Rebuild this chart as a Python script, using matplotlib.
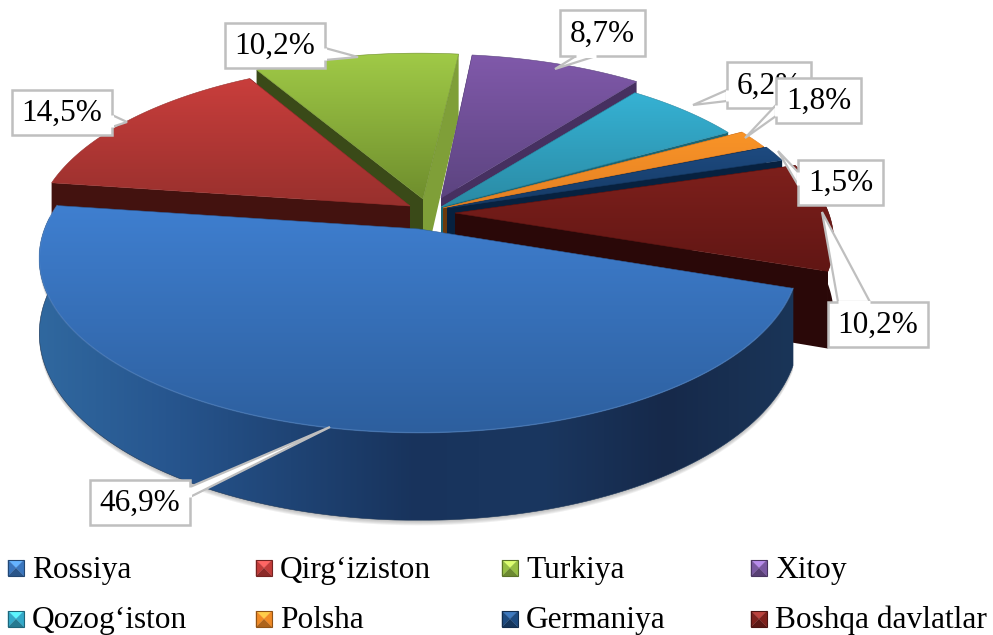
import numpy as np
import matplotlib
import matplotlib.pyplot as plt
from matplotlib.colors import LinearSegmentedColormap
from matplotlib.patches import Polygon

matplotlib.use('Agg')
plt.rcParams['font.family'] = ['Liberation Serif', 'DejaVu Serif']

names = ['Rossiya', 'Qirg‘iziston', 'Turkiya', 'Xitoy',
         'Qozog‘iston', 'Polsha', 'Germaniya', 'Boshqa davlatlar']
values = [46.9, 14.5, 10.2, 8.7, 6.2, 1.8, 1.5, 10.2]
value_labels = ['46,9%', '14,5%', '10,2%', '8,7%', '6,2%', '1,8%', '1,5%', '10,2%']

# top gradient (back, front), wall colour
top_colors = [('#3f7fd0', '#2d5f9e'), ('#c93e3c', '#98302d'), ('#a0ca47', '#6f8e2d'),
              ('#8059aa', '#5c4480'), ('#36b2d4', '#2a8aa4'), ('#f99427', '#e48024'),
              ('#1d4a80', '#163a64'), ('#7e201c', '#611614')]
wall_colors = ['#1b3b68', '#43120f', '#3a4a18', '#463060',
               '#1a6675', '#6b3a0c', '#07213f', '#2a0808']
# where each exploded slice has its tip, how far out it reaches, sideways lean of its rim
tips = [(419, 229), (410, 206), (423, 199), (441, 198),
        (441, 207), (443, 208), (447, 208), (455, 213)]
reach = [0.98, 0.97, 0.985, 0.97, 0.95, 0.97, 0.965, 0.965]
lean = [0, 0, -4, -8, -6, 0, 0, 5]
draw_order = [2, 3, 1, 4, 5, 6, 7, 0]

START = -19.3
RX, RY, PERSP, DEPTH = 382, 173, 0.171, 73

fig = plt.figure(figsize=(9.93, 6.35), dpi=100)
ax = fig.add_axes([0, 0, 1, 1])


def project(angle, i, drop=0.0, radius=1.0):
    a = np.radians(angle)
    u, v = radius * reach[i] * np.cos(a), radius * reach[i] * np.sin(a)
    w = 1 + PERSP * v
    x = tips[i][0] + RX * u / w + lean[i] * radius * np.ones_like(u)
    return np.column_stack([x, tips[i][1] - RY * v / w + drop * DEPTH / w])


def grad_fill(poly, colors, z, horizontal=False):
    x0, y0 = poly.min(axis=0)
    x1, y1 = poly.max(axis=0)
    cmap = LinearSegmentedColormap.from_list('g', colors)
    ramp = np.linspace(0, 1, 256)
    ramp = ramp[None, :] if horizontal else ramp[:, None]
    im = ax.imshow(ramp, cmap=cmap, extent=(x0, x1, y1, y0), aspect='auto',
                   origin='upper', zorder=z, interpolation='bilinear')
    im.set_clip_path(Polygon(poly, closed=True, transform=ax.transData))
    ax.add_patch(Polygon(poly, closed=True, fill=False, ec=colors[-1], lw=0.4, zorder=z))


def radial_wall(angle, i):
    a = np.array([[0.0], [1.0]])
    top = project(angle, i, 0, a)
    low = project(angle, i, 1, a)
    return np.vstack([top, low[::-1]])


ends = START - np.cumsum(values) * 3.6
starts = np.r_[START, ends[:-1]]

z = 2
for i in draw_order:
    arc = np.linspace(starts[i], ends[i], 120)
    rim = project(arc, i)
    top = np.vstack([project(np.array([0.0]), i, 0, 0.0), rim])

    if i == 0:
        # soft shadow under the big slice, then its curved outer wall
        front = arc[(arc < -0.5) & (arc > -185)]
        wall = np.vstack([project(front, i), project(front, i, 1)[::-1]])
        for k in range(5, 0, -1):
            ax.add_patch(Polygon(wall + [0, k], closed=True, fc='#808080', ec='none',
                                 alpha=0.12, zorder=z))
        grad_fill(wall, ['#30689f', '#27568f', '#1f4475', '#18335c',
                         '#1a3760', '#16294a', '#1a3558'], z + 0.5, horizontal=True)
    else:
        # radial side faces of the slice
        for ang, face in ((starts[i], 'a'), (ends[i], 'b')):
            poly = radial_wall(ang, i)
            if i == 2 and face == 'b':
                # this one catches the light on the inner side of the gap
                ax.add_patch(Polygon(poly, closed=True, fc='#7f9f38', ec='none', zorder=z))
            else:
                ax.add_patch(Polygon(poly, closed=True, fc=wall_colors[i], ec='none', zorder=z))
        if i == 7:
            out = np.linspace(starts[i], ends[i], 40)
            ax.add_patch(Polygon(np.vstack([project(out, i), project(out, i, 1)[::-1]]),
                                 closed=True, fc=wall_colors[i], ec='none', zorder=z))

    grad_fill(top, list(top_colors[i]), z + 1)
    if i == 0:
        ax.plot(rim[:, 0], rim[:, 1], color='#6e9fdc', lw=1.0, alpha=0.35, zorder=z + 1.2)
    z += 2

# value boxes: label box then the pointer running to its slice
boxes = [(90, 480, 190, 525), (12, 90, 112, 135), (225, 23, 325, 68), (560, 10, 645, 56),
         (727, 62, 811, 108), (776, 78, 861, 123), (798, 160, 883, 205), (828, 302, 928, 347)]
pointers = [((190, 487), (190, 497), (330, 427)),
            ((112, 115), (112, 127), (127, 122)),
            ((325, 48), (325, 60), (358, 57)),
            ((576, 56), (596, 56), (555, 69)),
            ((727, 90), (727, 101), (693, 105)),
            ((776, 105), (776, 116), (745, 138)),
            ((798, 172), (798, 185), (778, 151)),
            ((838, 302), (870, 302), (822, 212))]
for i in range(len(boxes)):
    x0, y0, x1, y1 = boxes[i]
    ax.add_patch(Polygon(np.array(pointers[i]), closed=True, fc='white', ec='#bfbfbf', lw=1.6,
                         zorder=100 + i))
    ax.add_patch(Polygon([(x0, y0), (x1, y0), (x1, y1), (x0, y1)], closed=True, fc='white',
                         ec='#bfbfbf', lw=1.8, zorder=100.2 + i))
    a, b = pointers[i][0], pointers[i][1]
    ax.plot([a[0], b[0]], [a[1], b[1]], color='white', lw=2.2, zorder=100.3 + i,
            solid_capstyle='butt')
    ax.text((x0 + x1) / 2, (y0 + y1) / 2 + 1, value_labels[i], ha='center', va='center',
            fontsize=22.5, color='black', zorder=100.5 + i)


def legend_key(x, y, base):
    s = 16
    c = np.array(matplotlib.colors.to_rgb(base))
    light = np.clip(c * 1.3 + 0.1, 0, 1)
    dark = c * 0.72
    pts = [(x, y), (x + s, y), (x + s, y + s), (x, y + s)]
    mid = (x + s / 2, y + s / 2)
    ax.add_patch(Polygon([pts[0], pts[1], mid], fc=light, ec='none', zorder=50))
    ax.add_patch(Polygon([pts[1], pts[2], mid], fc=c, ec=c, lw=0.3, zorder=50))
    ax.add_patch(Polygon([pts[0], pts[3], mid], fc=c, ec=c, lw=0.3, zorder=50))
    ax.add_patch(Polygon([pts[2], pts[3], mid], fc=dark, ec='none', zorder=50))
    ax.add_patch(Polygon(pts, fill=False, ec=c * 0.6, lw=0.8, zorder=50))


col_x = [8, 256, 502, 751]
row_y = [560, 611]
baseline_y = [578, 628]
key_colors = ['#3a76be', '#c23b39', '#96bf43', '#7a58a2', '#33a9c9', '#f08a25', '#1c4a80', '#7e201c']
for i, name in enumerate(names):
    x, y = col_x[i % 4], row_y[i // 4]
    legend_key(x, y, key_colors[i])
    ax.text(x + 24, baseline_y[i // 4], name, ha='left', va='baseline', fontsize=22.6, color='black')

ax.set_xlim(0, 993)
ax.set_ylim(635, 0)
ax.axis('off')
fig.savefig('out.png', dpi=100)
